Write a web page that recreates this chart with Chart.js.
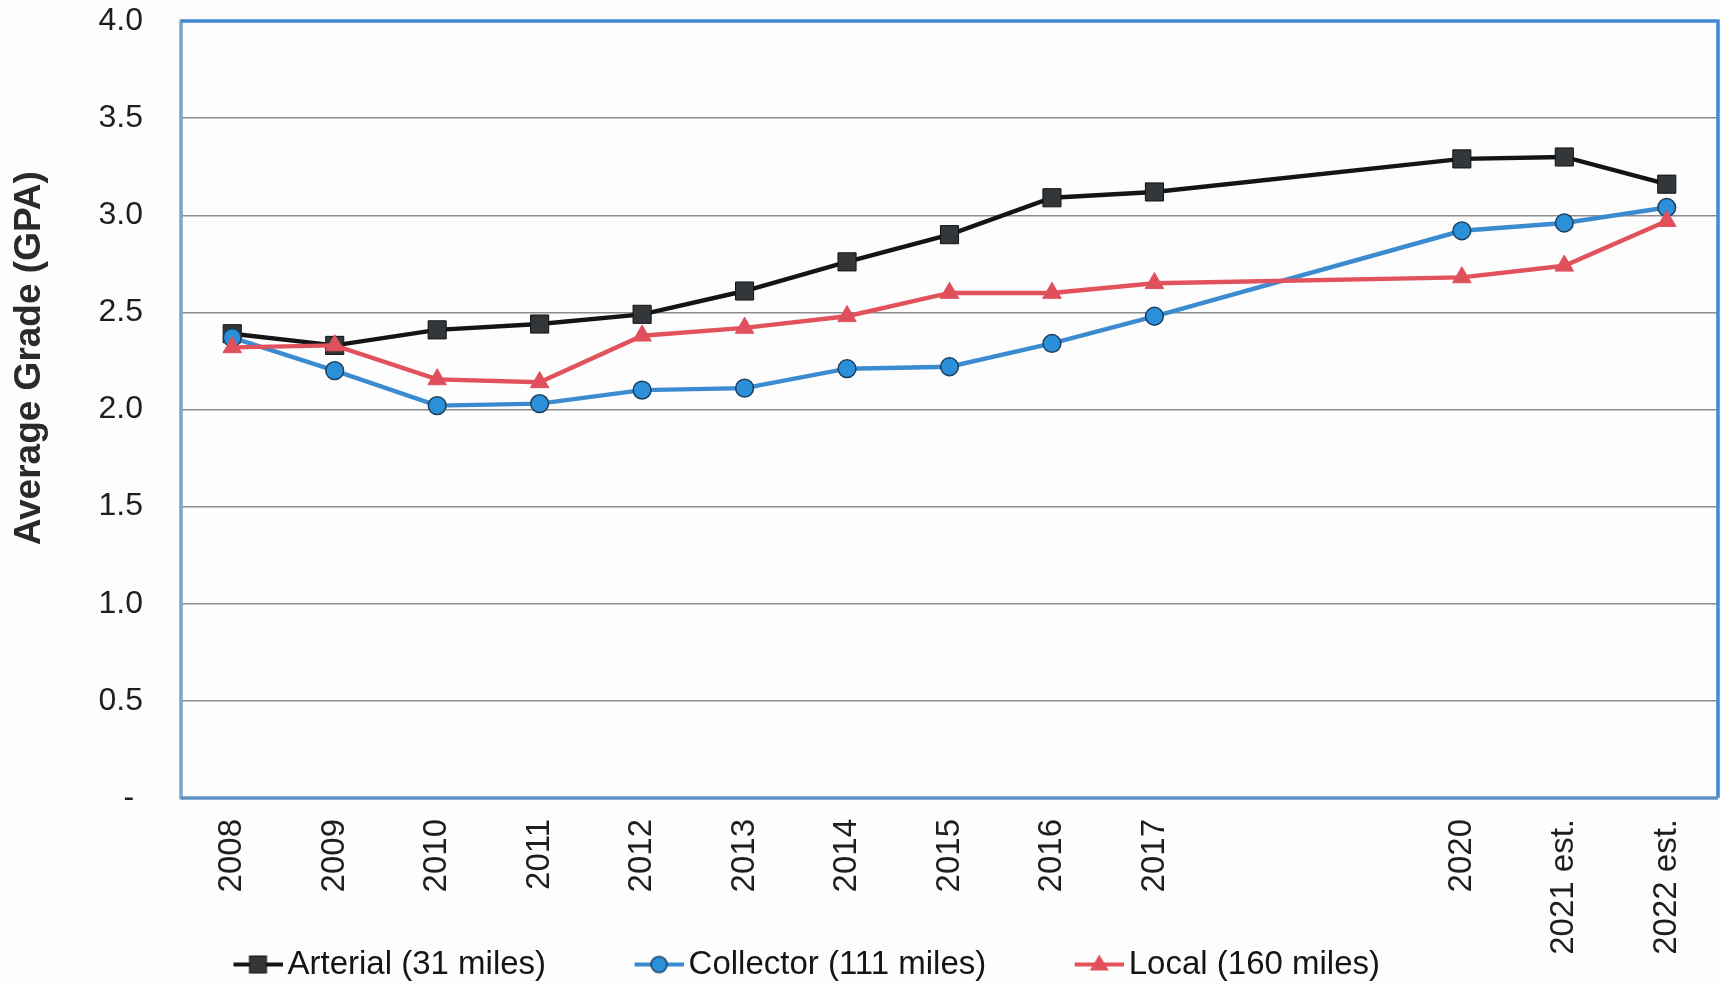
<!DOCTYPE html>
<html>
<head>
<meta charset="utf-8">
<script src="https://cdn.jsdelivr.net/npm/chart.js@4"></script>
<style>
  html, body { margin: 0; padding: 0; background: #fdfdfd; }
  #wrap { width: 1722px; height: 985px; }
</style>
</head>
<body>
<div id="wrap"><canvas id="c" width="1722" height="985"></canvas></div>
<script>
// ---- data ----
const categories = ['2008','2009','2010','2011','2012','2013','2014','2015','2016','2017','','','2020','2021 est.','2022 est.'];
const arterial  = [2.39, 2.33, 2.41, 2.44, 2.49, 2.61, 2.76, 2.90, 3.09, 3.12, null, null, 3.29, 3.30, 3.16];
const collector = [2.37, 2.20, 2.02, 2.03, 2.10, 2.11, 2.21, 2.22, 2.34, 2.48, null, null, 2.92, 2.96, 3.04];
const local     = [2.32, 2.33, 2.155, 2.14, 2.38, 2.42, 2.48, 2.60, 2.60, 2.65, null, null, 2.68, 2.74, 2.97];
const seriesNames = ['Arterial (31 miles)', 'Collector (111 miles)', 'Local (160 miles)'];
const yTicks = [0, 0.5, 1.0, 1.5, 2.0, 2.5, 3.0, 3.5, 4.0];
const yTitle = 'Average Grade (GPA)';

// ---- styles ----
const FONT = '"Liberation Sans", Arial, sans-serif';
const COLORS = {
  arterialLine: '#141414', arterialFill: '#34373a',
  collectorLine: '#3a8bd0', collectorFill: '#2b8fd9', collectorEdge: '#1d3f5e',
  localLine: '#e2525c', localFill: '#e0505c'
};

function makeIcon(kind) {
  const W = 139, H = 26;
  const cv = document.createElement('canvas');
  cv.width = W; cv.height = H;
  const g = cv.getContext('2d');
  const x0 = W - 49, cx = x0 + 24.5, cy = H / 2;
  g.lineWidth = 4;
  g.strokeStyle = kind === 0 ? COLORS.arterialLine : kind === 1 ? COLORS.collectorLine : COLORS.localLine;
  g.beginPath(); g.moveTo(x0, cy); g.lineTo(W, cy); g.stroke();
  if (kind === 0) {
    g.fillStyle = COLORS.arterialFill; g.fillRect(cx - 8.5, cy - 8.5, 17, 17);
    g.strokeStyle = '#111'; g.lineWidth = 1; g.strokeRect(cx - 8.5, cy - 8.5, 17, 17);
  } else if (kind === 1) {
    g.fillStyle = COLORS.collectorFill; g.beginPath(); g.arc(cx, cy, 8, 0, Math.PI * 2); g.fill();
    g.strokeStyle = COLORS.collectorEdge; g.lineWidth = 1.5; g.stroke();
  } else {
    g.fillStyle = COLORS.localFill; g.beginPath();
    g.moveTo(cx, cy - 10); g.lineTo(cx + 9.5, cy + 6); g.lineTo(cx - 9.5, cy + 6); g.closePath(); g.fill();
  }
  return cv;
}
const ICONS = [makeIcon(0), makeIcon(1), makeIcon(2)];

const LEGEND_PAD = 10;
const LEGEND_FIRST_X = 155;
const LEGEND_TOP = 938;

const framePlugin = {
  id: 'frame',
  beforeDatasetsDraw(chart) {
    const a = chart.chartArea, ctx = chart.ctx;
    ctx.save();
    ctx.lineWidth = 3.5;
    ctx.strokeStyle = '#7aa5cc';
    ctx.beginPath(); ctx.moveTo(a.left, a.top - 1.5); ctx.lineTo(a.left, a.bottom + 1.5); ctx.stroke();
    ctx.strokeStyle = '#3f8bd2';
    ctx.beginPath(); ctx.moveTo(a.left, a.top); ctx.lineTo(a.right, a.top); ctx.lineTo(a.right, a.bottom); ctx.stroke();
    ctx.strokeStyle = '#5d93c4';
    ctx.beginPath(); ctx.moveTo(a.left, a.bottom); ctx.lineTo(a.right, a.bottom); ctx.stroke();
    ctx.restore();
  }
};

const yTitlePlugin = {
  id: 'ytitle',
  afterDraw(chart) {
    const ctx = chart.ctx, a = chart.chartArea;
    ctx.save();
    ctx.translate(30, a.top + (a.bottom - a.top) * 0.434);
    ctx.rotate(-Math.PI / 2);
    ctx.font = 'bold 37px ' + FONT;
    ctx.fillStyle = '#2a2a2a';
    ctx.textAlign = 'center';
    ctx.textBaseline = 'middle';
    ctx.fillText(yTitle, 0, 0);
    ctx.restore();
  }
};

const legendPlace = {
  id: 'legendPlace',
  afterLayout(chart) {
    const lg = chart.legend;
    const dx = LEGEND_FIRST_X - (lg.left + LEGEND_PAD);
    lg.left += dx; lg.right += dx;
    const dy = LEGEND_TOP - lg.top;
    lg.top += dy; lg.bottom += dy;
    // rotated year labels reach down beside the legend
    chart.scales.x.bottom = chart.height;
  }
};

new Chart(document.getElementById('c'), {
  type: 'line',
  data: {
    labels: categories,
    datasets: [
      { label: seriesNames[0], data: arterial, borderColor: COLORS.arterialLine, backgroundColor: COLORS.arterialFill,
        pointStyle: 'rect', pointRadius: 12.8, pointBorderColor: '#111', pointBorderWidth: 1, order: 3 },
      { label: seriesNames[1], data: collector, borderColor: COLORS.collectorLine, backgroundColor: COLORS.collectorFill,
        pointStyle: 'circle', pointRadius: 8.9, pointBorderColor: COLORS.collectorEdge, pointBorderWidth: 1.5, order: 2 },
      { label: seriesNames[2], data: local, borderColor: COLORS.localLine, backgroundColor: COLORS.localFill,
        pointStyle: 'triangle', pointRadius: 10.7, pointBorderColor: COLORS.localFill, pointBorderWidth: 1, order: 1 }
    ]
  },
  options: {
    responsive: false,
    animation: false,
    devicePixelRatio: 1,
    spanGaps: true,
    elements: { line: { borderWidth: 4.4, tension: 0 }, point: { hoverRadius: 10 } },
    layout: { autoPadding: false, padding: { top: 21, right: 4, left: 0, bottom: 0 } },
    plugins: {
      tooltip: { enabled: false },
      legend: {
        position: 'bottom',
        align: 'start',
        labels: {
          usePointStyle: true,
          pointStyleWidth: 116,
          padding: LEGEND_PAD,
          color: '#151515',
          font: { family: FONT, size: 33 },
          sort: (a, b) => a.datasetIndex - b.datasetIndex,
          generateLabels(chart) {
            const items = Chart.defaults.plugins.legend.labels.generateLabels(chart);
            items.forEach(it => { it.pointStyle = ICONS[it.datasetIndex]; });
            return items;
          }
        }
      }
    },
    scales: {
      x: {
        type: 'category',
        offset: true,
        grid: { display: false, drawTicks: false },
        border: { display: false },
        ticks: {
          autoSkip: false, minRotation: 90, maxRotation: 90, padding: 21,
          color: '#1e1e1e', font: { family: FONT, size: 33 }
        },
        afterFit(axis) { axis.height = 134; axis.paddingLeft = 0; axis.paddingRight = 0; }
      },
      y: {
        min: 0, max: 4,
        afterBuildTicks(axis) { axis.ticks = yTicks.map(v => ({ value: v })); },
        grid: { color: '#8c8c8c', lineWidth: 1.5, drawTicks: false },
        border: { display: false },
        ticks: {
          padding: 38, color: '#1e1e1e', font: { family: FONT, size: 32 },
          callback: v => v === 0 ? '- ' : Number(v).toFixed(1)
        },
        afterFit(axis) { axis.width = 181; axis.paddingTop = 0; axis.paddingBottom = 0; }
      }
    }
  },
  plugins: [framePlugin, yTitlePlugin, legendPlace]
});
</script>
</body>
</html>
